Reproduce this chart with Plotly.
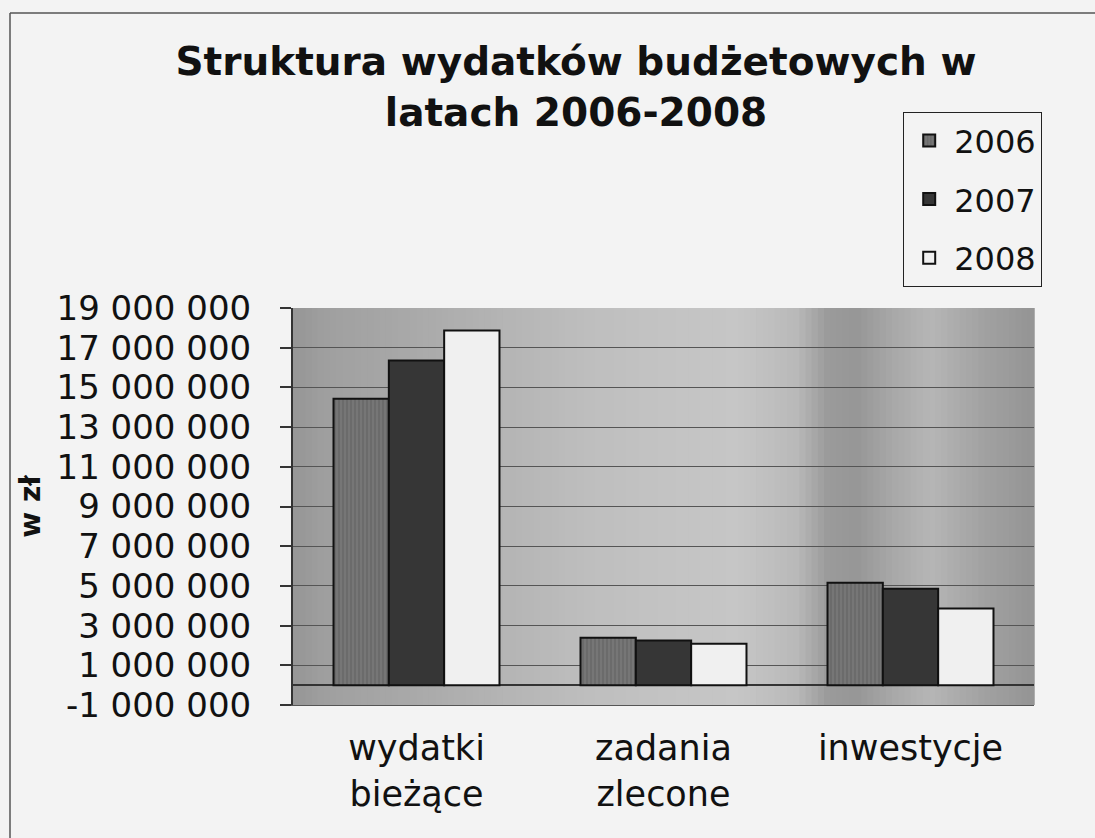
import plotly.graph_objects as go

# ---- data ----
categories = ["wydatki<br>bieżące", "zadania<br>zlecone", "inwestycje"]
years = ["2006", "2007", "2008"]
values_2006 = [14_430_000, 2_390_000, 5_160_000]
values_2007 = [16_360_000, 2_250_000, 4_860_000]
values_2008 = [17_870_000, 2_080_000, 3_860_000]
tick_values = [-1_000_000, 1_000_000, 3_000_000, 5_000_000, 7_000_000, 9_000_000,
               11_000_000, 13_000_000, 15_000_000, 17_000_000, 19_000_000]
tick_labels = ["-1 000 000", "1 000 000", "3 000 000", "5 000 000", "7 000 000", "9 000 000",
               "11 000 000", "13 000 000", "15 000 000", "17 000 000", "19 000 000"]

FONT = "DejaVu Sans"
PAPER = "#f3f3f3"

fig = go.Figure()

series = [values_2006, values_2007, values_2008]
fills = ["#767676", "#363636", "#f0f0f0"]
for i, (yr, vals) in enumerate(zip(years, series)):
    marker = dict(color=fills[i], line=dict(color="#111111", width=2))
    if i == 0:
        marker["pattern"] = dict(shape="|", fillmode="overlay", fgcolor="#4a4a4a",
                                 size=4, solidity=0.25)
    fig.add_trace(go.Bar(name=yr, x=categories, y=vals, marker=marker,
                         legendgroup=yr))

# background gradient of the plot area (decorative strips)
bg_stops = [(0.00, 150), (0.05, 160), (0.15, 168), (0.28, 180), (0.40, 190),
            (0.50, 195), (0.60, 198), (0.68, 185), (0.72, 155), (0.76, 150),
            (0.80, 165), (0.86, 182), (0.93, 162), (1.00, 148)]
n_strips = 120
shapes = []
for k in range(n_strips):
    x0 = k / n_strips
    x1 = (k + 1) / n_strips
    xm = (x0 + x1) / 2
    for (a, ga), (b, gb) in zip(bg_stops[:-1], bg_stops[1:]):
        if a <= xm <= b:
            g = int(round(ga + (gb - ga) * (xm - a) / (b - a)))
            break
    c = f"rgb({g},{g},{g})"
    shapes.append(dict(type="rect", xref="x domain", yref="y domain",
                       x0=x0, x1=x1 + 0.001, y0=0, y1=1, fillcolor=c,
                       line=dict(width=0), layer="below"))
# outer frame of the chart (top and left edges visible)
shapes.append(dict(type="line", xref="paper", yref="paper",
                   x0=-283 / 741, x1=1.5, y0=(705 - 13) / 397, y1=(705 - 13) / 397,
                   line=dict(color="#555555", width=1.5), layer="above"))
shapes.append(dict(type="line", xref="paper", yref="paper",
                   x0=-283 / 741, x1=-283 / 741, y0=-1, y1=(705 - 13) / 397,
                   line=dict(color="#555555", width=1.5), layer="above"))

fig.update_layout(
    width=1095, height=838,
    margin=dict(l=293, r=61, t=308, b=133, autoexpand=False),
    paper_bgcolor=PAPER,
    plot_bgcolor="#b4b4b4",
    font=dict(family=FONT, color="#111111", size=34),
    title=dict(text="<b>Struktura wydatków budżetowych w<br>latach 2006-2008</b>",
               font=dict(family=FONT, size=39, color="#111111"),
               xref="container", yref="container", x=0.526, xanchor="center",
               y=1 - 75 / 838, yanchor="top"),
    barmode="group", bargap=0.328, bargroupgap=0.0,
    showlegend=True,
    legend=dict(xref="container", yref="container", x=903 / 1095, y=1 - 112 / 838,
                xanchor="left", yanchor="top", bgcolor=PAPER,
                bordercolor="#222222", borderwidth=1.2,
                font=dict(family=FONT, size=32, color="#111111"),
                traceorder="grouped", tracegroupgap=14, itemwidth=40,
                entrywidth=112, entrywidthmode="pixels"),
    shapes=shapes,
)

fig.update_xaxes(showgrid=False, showline=True, linecolor="#555555", linewidth=1,
                 ticks="", tickfont=dict(family=FONT, size=35, color="#111111"),
                 ticklabelstandoff=12)
fig.update_yaxes(range=[-1_000_000, 19_000_000], tickvals=tick_values, ticktext=tick_labels,
                 showgrid=True, gridcolor="#555555", gridwidth=1,
                 zeroline=True, zerolinecolor="#333333", zerolinewidth=1.5,
                 showline=True, linecolor="#333333", linewidth=2,
                 ticks="outside", ticklen=11, tickcolor="#333333", tickwidth=1.5,
                 ticklabelstandoff=22,
                 tickfont=dict(family=FONT, size=34, color="#111111"),
                 title=dict(text="<b>w zł</b>", font=dict(family=FONT, size=28, color="#111111"),
                            standoff=8))

fig.write_html("out.html")
